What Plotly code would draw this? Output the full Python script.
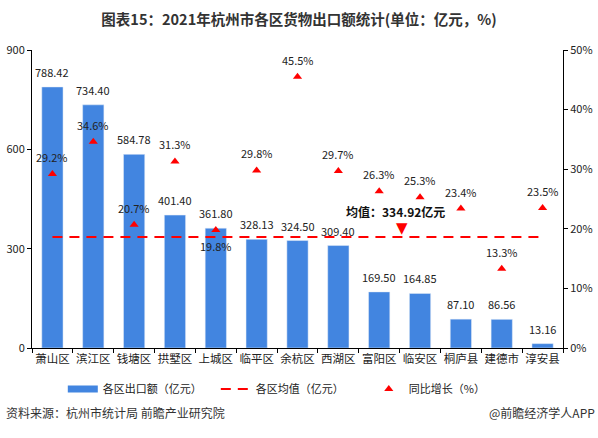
import plotly.graph_objects as go

districts = ["萧山区", "滨江区", "钱塘区", "拱墅区", "上城区", "临平区", "余杭区",
             "西湖区", "富阳区", "临安区", "桐庐县", "建德市", "淳安县"]
exports = [788.42, 734.40, 584.78, 401.40, 361.80, 328.13, 324.50,
           309.40, 169.50, 164.85, 87.10, 86.56, 13.16]
growth = [29.2, 34.6, 20.7, 31.3, 19.8, 29.8, 45.5, 29.7, 26.3, 25.3, 23.4, 13.3, 23.5]
mean_value = 334.92
left_ticks = [0, 300, 600, 900]
right_ticks = [0, 10, 20, 30, 40, 50]

font_cn = "Noto Sans CJK SC"
bar_color = "#4285E0"

fig = go.Figure()
fig.add_trace(go.Bar(
    x=districts, y=exports, name="各区出口额（亿元）",
    marker_color=bar_color, width=0.52, showlegend=False,
))
# legend stand-in for the bar series (wide rectangle swatch)
fig.add_trace(go.Scatter(
    x=[None], y=[None], mode="lines", name="各区出口额（亿元）",
    line=dict(color=bar_color, width=7),
))
fig.add_trace(go.Scatter(
    x=districts, y=[mean_value] * len(districts), name="各区均值（亿元）",
    mode="lines", line=dict(color="#FF0000", width=2, dash="10px,7px"),
))
fig.add_trace(go.Scatter(
    x=districts, y=growth, name="同比增长（%）", yaxis="y2",
    mode="markers",
    marker=dict(symbol="triangle-up", color="#FF0000", size=8),
    cliponaxis=False,
))

for d, v in zip(districts, exports):
    fig.add_annotation(x=d, y=v, xref="x", yref="y", text=f"{v:.2f}",
                       showarrow=False, yanchor="bottom", yshift=5,
                       font=dict(size=11, color="#222", family=font_cn))

for d, g in zip(districts, growth):
    below = g == 19.8
    fig.add_annotation(x=d, y=g, xref="x", yref="y2", text=f"{g}%",
                       showarrow=False, yanchor="top" if below else "bottom",
                       yshift=-6 if below else 7,
                       font=dict(size=11, color="#222", family=font_cn))

fig.add_annotation(x=8.4, y=mean_value, xref="x", yref="y",
                   text="<b>均值：334.92亿元</b>", showarrow=False,
                   yshift=26, font=dict(size=12, color="#111", family=font_cn))
fig.add_annotation(x=8.55, y=mean_value, xref="x", yref="y",
                   text="▼", showarrow=False,
                   yshift=9, font=dict(size=15, color="#FF0000", family="DejaVu Sans"))

fig.update_layout(
    width=598, height=438,
    margin=dict(l=32, r=35, t=50, b=90, autoexpand=False),
    plot_bgcolor="white", paper_bgcolor="white",
    font=dict(family=font_cn, color="#222", size=11),
    title=dict(text="<b>图表15：2021年杭州市各区货物出口额统计(单位：亿元，%)</b>",
               x=0.5, xanchor="center", y=0.955, yanchor="middle", yref="container",
               font=dict(size=14.5, color="#333", family=font_cn)),
    bargap=0.48,
    showlegend=True,
    legend=dict(orientation="h", x=0.058, xanchor="left", y=-0.138, yanchor="middle",
                font=dict(size=11, color="#222", family=font_cn),
                entrywidth=108, entrywidthmode="pixels", tracegroupgap=0),
    xaxis=dict(type="category", showline=True, linecolor="#000", linewidth=1,
               ticks="outside", tickson="boundaries", ticklen=4, tickcolor="#000",
               tickangle=0, automargin=False,
               tickfont=dict(size=11.5, color="#222", family=font_cn),
               range=[-0.5, 12.5]),
    yaxis=dict(range=[0, 900], tickvals=left_ticks, showgrid=False, zeroline=False,
               showline=True, linecolor="#000", linewidth=1, ticks="outside", ticklen=4,
               automargin=False,
               tickcolor="#000", tickfont=dict(size=11, color="#222", family=font_cn)),
    yaxis2=dict(range=[0, 50], tickvals=right_ticks, ticktext=[f"{v}%" for v in right_ticks],
                overlaying="y", side="right", showgrid=False, zeroline=False,
                showline=True, linecolor="#000", linewidth=1, ticks="outside", ticklen=4,
                automargin=False,
                tickcolor="#000", tickfont=dict(size=11, color="#222", family=font_cn)),
)

fig.add_annotation(x=0, xref="paper", xanchor="left", xshift=-28, y=-0.218, yref="paper",
                   yanchor="middle", text="资料来源：杭州市统计局 前瞻产业研究院",
                   showarrow=False, font=dict(size=12, color="#333", family=font_cn))
fig.add_annotation(x=1, xref="paper", xanchor="right", xshift=34, y=-0.218, yref="paper",
                   yanchor="middle", text="@前瞻经济学人APP",
                   showarrow=False, font=dict(size=12, color="#333", family=font_cn))

fig.write_html("out.html", config={"displayModeBar": False},
               post_script="document.body.style.margin='0';")
